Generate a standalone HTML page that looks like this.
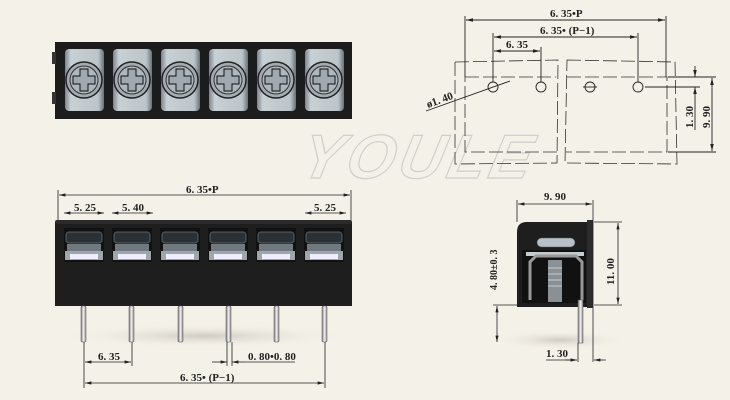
<!DOCTYPE html>
<html><head><meta charset="utf-8"><style>
html,body{margin:0;padding:0;background:#f4f1e9}
svg{display:block}
text{font-family:"Liberation Serif",serif;font-size:11px;fill:#222;font-weight:bold}
</style></head><body>
<svg width="730" height="400" viewBox="0 0 730 400" xmlns="http://www.w3.org/2000/svg">
<defs>
<marker id="a" markerWidth="8" markerHeight="6" refX="8" refY="3" orient="auto-start-reverse"><path d="M0,1 L8,3 L0,5z" fill="#222"/></marker>
<linearGradient id="cell" x1="0" x2="1"><stop offset="0" stop-color="#7a848b"/><stop offset=".15" stop-color="#c8d0d5"/><stop offset=".85" stop-color="#bcc5ca"/><stop offset="1" stop-color="#69727a"/></linearGradient>
<linearGradient id="pin" x1="0" x2="1"><stop offset="0" stop-color="#777"/><stop offset=".5" stop-color="#f4f4f4"/><stop offset="1" stop-color="#888"/></linearGradient>
<radialGradient id="sh"><stop offset="0" stop-color="#cfcbc3"/><stop offset="1" stop-color="#f4f1e9" stop-opacity="0"/></radialGradient>
</defs>

<!-- watermark -->
<text x="300" y="178" style="font-family:'Liberation Sans',sans-serif;font-size:62px;font-style:italic;font-weight:bold;fill:none;stroke:#cfcfcf;stroke-width:1.2;letter-spacing:4px" transform="skewX(-12) translate(36,0)">YOULE</text>

<!-- TOP VIEW -->
<rect x="55" y="42" width="297" height="77" fill="#1c1c1c"/>
<rect x="52" y="52" width="4" height="12" fill="#333"/><rect x="52" y="92" width="4" height="12" fill="#333"/>
<g id="cells">
<g><rect x="65" y="49" width="39" height="62" rx="4" fill="url(#cell)"/><circle cx="84" cy="80" r="18" fill="#a3acb2" stroke="#222" stroke-width="1.5"/><circle cx="84" cy="80" r="14" fill="#aeb7bc" stroke="#333"/><path d="M80,69h8v7h7v8h-7v7h-8v-7h-7v-8h7z" fill="#a0a9b0" stroke="#111"/></g>
</g>
<use href="#cells" x="48"/><use href="#cells" x="96"/><use href="#cells" x="144"/><use href="#cells" x="192"/><use href="#cells" x="240"/>

<!-- FRONT VIEW -->
<ellipse cx="205" cy="336" rx="150" ry="12" fill="url(#sh)"/>
<rect x="55" y="222" width="297" height="84" fill="#1e1e1e"/>
<rect x="55" y="220" width="297" height="4" rx="2" fill="#2a2a2a"/>
<g id="fc"><rect x="64" y="228" width="40" height="34" fill="#111"/><rect x="66" y="232" width="36" height="11" rx="3" fill="#2a3034" stroke="#55606a" stroke-width="1"/><rect x="67" y="244" width="34" height="7" fill="#6f797f"/><rect x="65" y="251" width="38" height="9" fill="#9ea6ab"/><rect x="70" y="254" width="28" height="5" fill="#eef"/></g>
<use href="#fc" x="48"/><use href="#fc" x="96"/><use href="#fc" x="144"/><use href="#fc" x="192"/><use href="#fc" x="240"/>
<g fill="url(#pin)" stroke="#555" stroke-width=".5">
<rect x="81" y="306" width="5" height="36" rx="1"/><rect x="129" y="306" width="5" height="36" rx="1"/><rect x="178" y="306" width="5" height="36" rx="1"/><rect x="226" y="306" width="5" height="36" rx="1"/><rect x="274" y="306" width="5" height="36" rx="1"/><rect x="322" y="306" width="5" height="36" rx="1"/>
</g>
<g stroke="#222" stroke-width=".8" fill="none">
<line x1="58" y1="190" x2="58" y2="220"/><line x1="351" y1="190" x2="351" y2="220"/>
<line x1="59" y1="195" x2="350" y2="195" marker-start="url(#a)" marker-end="url(#a)"/>
<line x1="64" y1="213" x2="104" y2="213" marker-start="url(#a)" marker-end="url(#a)"/>
<line x1="112" y1="213" x2="153" y2="213" marker-start="url(#a)" marker-end="url(#a)"/>
<line x1="305" y1="213" x2="346" y2="213" marker-start="url(#a)" marker-end="url(#a)"/>
<line x1="84" y1="342" x2="84" y2="388"/><line x1="132" y1="342" x2="132" y2="366"/><line x1="325" y1="342" x2="325" y2="388"/>
<line x1="227" y1="342" x2="227" y2="366"/><line x1="232" y1="342" x2="232" y2="366"/>
<line x1="85" y1="362" x2="131" y2="362" marker-start="url(#a)" marker-end="url(#a)"/>
<line x1="212" y1="362" x2="227" y2="362" marker-end="url(#a)"/><line x1="245" y1="362" x2="232" y2="362" marker-end="url(#a)"/><line x1="245" y1="362" x2="295" y2="362"/>
<line x1="85" y1="383" x2="324" y2="383" marker-start="url(#a)" marker-end="url(#a)"/>
</g>
<text x="186" y="193">6. 35•P</text>
<text x="74" y="211">5. 25</text><text x="122" y="211">5. 40</text><text x="314" y="211">5. 25</text>
<text x="98" y="360">6. 35</text><text x="248" y="360">0. 80•0. 80</text><text x="180" y="381">6. 35• (P−1)</text>

<!-- TOP RIGHT PCB -->
<g stroke="#333" stroke-width=".8" fill="none" stroke-dasharray="14,4">
<path d="M455,62 L558,60 L557,163 L455,164z"/>
<path d="M567,60 L675,62 L677,164 L565,163z"/>
<path d="M465,77 L556,77 M567,77 L667,77 L667,152 L566,152 M557,152 L465,152 L465,77"/>
</g>
<g stroke="#222" stroke-width=".9" fill="none">
<circle cx="493" cy="87" r="5"/><circle cx="541" cy="87" r="5"/><circle cx="590" cy="87" r="5"/><circle cx="638" cy="87" r="5"/>
<line x1="583" y1="87" x2="597" y2="87"/>
<line x1="465" y1="16" x2="465" y2="77"/><line x1="666" y1="16" x2="666" y2="77"/>
<line x1="466" y1="20" x2="665" y2="20" marker-start="url(#a)" marker-end="url(#a)"/>
<line x1="493" y1="33" x2="493" y2="82"/><line x1="638" y1="33" x2="638" y2="82"/><line x1="541" y1="47" x2="541" y2="82"/>
<line x1="494" y1="37" x2="637" y2="37" marker-start="url(#a)" marker-end="url(#a)"/>
<line x1="494" y1="51" x2="540" y2="51" marker-start="url(#a)" marker-end="url(#a)"/>
<line x1="426" y1="111" x2="510" y2="81"/>
<line x1="645" y1="87" x2="700" y2="87"/><line x1="668" y1="77" x2="716" y2="77"/><line x1="668" y1="152" x2="716" y2="152"/>
<line x1="695" y1="66" x2="695" y2="77" marker-end="url(#a)"/><line x1="695" y1="98" x2="695" y2="87" marker-end="url(#a)"/><line x1="695" y1="98" x2="695" y2="130"/>
<line x1="712" y1="78" x2="712" y2="151" marker-start="url(#a)" marker-end="url(#a)"/>
</g>
<text x="550" y="17">6. 35•P</text><text x="540" y="34">6. 35• (P−1)</text><text x="506" y="48">6. 35</text>
<text x="428" y="108" transform="rotate(-20 428 108)">ø1. 40</text>
<text x="693" y="128" transform="rotate(-90 693 128)">1. 30</text>
<text x="710" y="128" transform="rotate(-90 710 128)">9. 90</text>

<!-- SIDE VIEW -->
<ellipse cx="560" cy="340" rx="70" ry="10" fill="url(#sh)"/>
<path d="M517,307 L517,232 Q517,222 527,222 L593,222 L593,307z" fill="#1e1e1e"/>
<rect x="587" y="220" width="6" height="88" fill="#2c2c2c"/>
<rect x="537" y="238" width="38" height="9" rx="4.5" fill="#b7c1c7" stroke="#555" stroke-width=".6"/>
<rect x="522" y="250" width="64" height="53" fill="#111"/>
<rect x="526" y="252" width="58" height="4" fill="#c5ccd0"/>
<path d="M530,300 L530,262 L536,256 L576,256 L582,262 L582,300" stroke="#999" stroke-width="3" fill="none"/>
<rect x="548" y="260" width="14" height="42" fill="#8a9196"/>
<g stroke="#ccc" stroke-width="1"><line x1="548" y1="268" x2="562" y2="268"/><line x1="548" y1="274" x2="562" y2="274"/><line x1="548" y1="280" x2="562" y2="280"/><line x1="548" y1="286" x2="562" y2="286"/></g>
<rect x="578" y="300" width="5" height="43" fill="url(#pin)" stroke="#555" stroke-width=".5"/>
<g stroke="#222" stroke-width=".8" fill="none">
<line x1="517" y1="200" x2="517" y2="222"/><line x1="593" y1="200" x2="593" y2="362"/>
<line x1="518" y1="204" x2="592" y2="204" marker-start="url(#a)" marker-end="url(#a)"/>
<line x1="594" y1="222" x2="622" y2="222"/><line x1="594" y1="305" x2="622" y2="305"/>
<line x1="618" y1="223" x2="618" y2="304" marker-start="url(#a)" marker-end="url(#a)"/>
<line x1="493" y1="305" x2="517" y2="305"/>
<line x1="497" y1="306" x2="497" y2="342" marker-start="url(#a)" marker-end="url(#a)"/>
<line x1="578" y1="343" x2="578" y2="362"/>
<line x1="546" y1="360" x2="577" y2="360"/><line x1="565" y1="360" x2="577" y2="360" marker-end="url(#a)"/><line x1="606" y1="360" x2="594" y2="360" marker-end="url(#a)"/>
</g>
<text x="544" y="200">9. 90</text>
<text x="614" y="285" transform="rotate(-90 614 285)">11. 00</text>
<text x="497" y="290" transform="rotate(-90 497 290)" style="font-size:10px">4. 80±0. 3</text>
<text x="546" y="357">1. 30</text>
</svg>
</body></html>
